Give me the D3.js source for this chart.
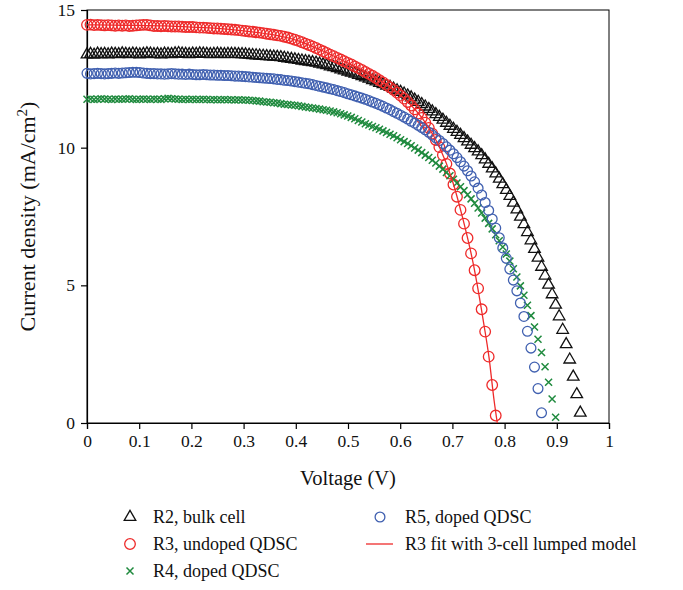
<!DOCTYPE html>
<html><head><meta charset="utf-8">
<script src="https://cdn.jsdelivr.net/npm/d3@7"></script>
<style>
html,body{margin:0;padding:0;background:#fff;}
text{font-family:"Liberation Serif","DejaVu Serif",serif;fill:#111;}
</style></head>
<body><svg id="chart" width="683" height="590"></svg>
<script>
// Voltage sampling step (V) shared by all measured series
const vStep = 0.00675;
// R2, bulk cell (mA/cm^2)
const r2 = [13.38,13.40,13.37,13.41,13.39,13.40,13.38,13.41,13.40,13.39,
 13.42,13.40,13.39,13.41,13.40,13.38,13.40,13.42,13.41,13.39,
 13.40,13.38,13.41,13.40,13.39,13.42,13.43,13.41,13.40,13.39,
 13.41,13.40,13.42,13.41,13.40,13.39,13.40,13.41,13.40,13.39,
 13.40,13.40,13.40,13.39,13.39,13.38,13.37,13.36,13.35,13.34,
 13.33,13.32,13.31,13.30,13.29,13.28,13.26,13.24,13.22,13.20,
 13.18,13.16,13.14,13.12,13.10,13.08,13.05,13.02,12.99,12.95,
 12.92,12.88,12.84,12.80,12.76,12.72,12.68,12.64,12.59,12.55,
 12.50,12.45,12.40,12.35,12.30,12.25,12.20,12.14,12.08,12.02,
 11.96,11.89,11.82,11.74,11.66,11.58,11.49,11.40,11.31,11.21,
 11.11,11.01,10.90,10.79,10.68,10.57,10.46,10.34,10.22,10.10,
 9.98,9.86,9.72,9.57,9.41,9.24,9.06,8.87,8.67,8.46,
 8.24,8.00,7.75,7.49,7.22,6.93,6.63,6.32,6.00,5.67,
 5.35,5.02,4.67,4.29,3.87,3.38,2.86,2.30,1.68,1.04,
 0.37];
// R3, undoped QDSC
const r3 = [14.46,14.47,14.45,14.46,14.45,14.44,14.45,14.44,14.43,14.44,
 14.43,14.44,14.42,14.43,14.44,14.45,14.46,14.46,14.44,14.42,
 14.42,14.41,14.42,14.41,14.40,14.40,14.40,14.39,14.38,14.38,
 14.38,14.37,14.36,14.36,14.35,14.34,14.33,14.33,14.32,14.31,
 14.30,14.29,14.28,14.27,14.25,14.24,14.22,14.21,14.19,14.18,
 14.16,14.14,14.12,14.10,14.08,14.06,14.03,14.00,13.96,13.92,
 13.88,13.83,13.78,13.73,13.68,13.62,13.56,13.50,13.44,13.38,
 13.32,13.26,13.20,13.14,13.08,13.02,12.95,12.89,12.82,12.75,
 12.68,12.61,12.53,12.45,12.37,12.28,12.19,12.10,12.00,11.89,
 11.78,11.66,11.53,11.39,11.24,11.08,10.91,10.72,10.51,10.28,
 10.02,9.73,9.41,9.06,8.66,8.22,7.74,7.24,6.72,6.16,
 5.55,4.89,4.13,3.32,2.41,1.38,0.27];
// R4, doped QDSC
const r4 = [11.76,11.77,11.75,11.76,11.78,11.77,11.76,11.75,11.77,11.76,
 11.76,11.77,11.78,11.76,11.75,11.76,11.77,11.76,11.75,11.77,
 11.76,11.75,11.78,11.79,11.78,11.77,11.76,11.75,11.76,11.75,
 11.76,11.75,11.75,11.76,11.75,11.74,11.75,11.74,11.74,11.75,
 11.74,11.74,11.73,11.74,11.73,11.73,11.72,11.71,11.70,11.69,
 11.67,11.66,11.65,11.63,11.62,11.60,11.58,11.57,11.55,11.54,
 11.52,11.50,11.48,11.46,11.44,11.42,11.40,11.38,11.36,11.33,
 11.30,11.27,11.23,11.19,11.15,11.10,11.05,10.99,10.93,10.87,
 10.82,10.77,10.72,10.67,10.61,10.55,10.49,10.43,10.36,10.29,
 10.22,10.15,10.07,9.99,9.91,9.82,9.73,9.64,9.54,9.44,
 9.33,9.22,9.10,8.98,8.85,8.72,8.58,8.44,8.29,8.14,
 7.98,7.81,7.63,7.44,7.25,7.05,6.84,6.62,6.39,6.14,
 5.88,5.60,5.30,4.98,4.64,4.28,3.90,3.49,3.04,2.56,
 2.04,1.48,0.87,0.21];
// R5, doped QDSC
const r5 = [12.70,12.68,12.69,12.70,12.69,12.68,12.69,12.70,12.71,12.70,
 12.71,12.72,12.73,12.74,12.74,12.73,12.71,12.70,12.69,12.69,
 12.68,12.68,12.67,12.68,12.69,12.68,12.67,12.67,12.66,12.67,
 12.66,12.65,12.65,12.66,12.65,12.64,12.64,12.63,12.63,12.62,
 12.62,12.61,12.60,12.60,12.59,12.58,12.57,12.56,12.55,12.54,
 12.53,12.52,12.51,12.50,12.48,12.47,12.45,12.44,12.42,12.40,
 12.38,12.36,12.34,12.32,12.29,12.26,12.23,12.20,12.17,12.14,
 12.11,12.07,12.04,12.00,11.96,11.92,11.88,11.84,11.80,11.76,
 11.71,11.66,11.61,11.56,11.50,11.44,11.38,11.31,11.25,11.18,
 11.11,11.04,10.96,10.89,10.81,10.73,10.65,10.56,10.46,10.36,
 10.26,10.15,10.03,9.91,9.78,9.64,9.49,9.33,9.16,8.97,
 8.76,8.53,8.28,8.01,7.72,7.41,7.08,6.73,6.36,5.98,
 5.59,5.19,4.80,4.36,3.87,3.33,2.72,2.03,1.25,0.37];
// R3 fit with 3-cell lumped model
const fitV = [0,0.05,0.10,0.15,0.20,0.25,0.30,0.35,0.40,0.45,0.50,0.55,0.60,0.65,0.675,0.70,0.72,0.74,0.76,0.77,0.78,0.786];
const fitI = [14.46,14.45,14.44,14.42,14.38,14.33,14.24,14.12,13.91,13.53,13.07,12.57,11.92,10.86,10.03,8.80,7.42,5.78,3.62,2.40,0.80,0.0];

const xTicks = [0,0.1,0.2,0.3,0.4,0.5,0.6,0.7,0.8,0.9,1];
const yTicks = [0,5,10,15];

const svg = d3.select("#chart");
const m = {l:87, r:609, t:10, b:423};
const x = d3.scaleLinear().domain([0,1]).range([m.l, m.r]);
const y = d3.scaleLinear().domain([0,15]).range([m.b, m.t]);

const toPts = arr => arr.map((v,i)=>({v:i*vStep, c:v}));

// frame
svg.append("rect").attr("x",m.l).attr("y",m.t).attr("width",m.r-m.l).attr("height",m.b-m.t)
  .attr("fill","none").attr("stroke","#000").attr("stroke-width",1);

const fs = "17.5px";
const xAxis = svg.append("g").attr("transform",`translate(0,${m.b})`)
  .call(d3.axisBottom(x).tickValues(xTicks).tickSize(6).tickPadding(6).tickFormat(d=>d3.format("")(+d.toFixed(1))));
const yAxis = svg.append("g").attr("transform",`translate(${m.l},0)`)
  .call(d3.axisLeft(y).tickValues(yTicks).tickSize(6).tickPadding(6));
[xAxis,yAxis].forEach(a=>{
  a.select(".domain").attr("stroke","#000").attr("stroke-width",1.2);
  a.selectAll(".tick line").attr("stroke","#000").attr("stroke-width",1.2);
  a.selectAll("text").attr("font-family","Liberation Serif, serif").attr("font-size",fs).attr("fill","#111");
});

const cBlack="#111", cRed="#ee2a2a", cGreen="#1f8a3e", cBlue="#4060b0";
const tri = d3.symbol().type(d3.symbolTriangle).size(58);

function drawTri(g, data){
  g.selectAll("path").data(data).join("path")
    .attr("d",tri).attr("transform",d=>`translate(${x(d.v)},${y(d.c)})`)
    .attr("fill","none").attr("stroke",cBlack).attr("stroke-width",1.3);
}
function drawCirc(g, data, col, r){
  g.selectAll("circle").data(data).join("circle")
    .attr("cx",d=>x(d.v)).attr("cy",d=>y(d.c)).attr("r",r)
    .attr("fill","none").attr("stroke",col).attr("stroke-width",1.3);
}
function drawX(g, data, col, s){
  g.selectAll("path").data(data).join("path")
    .attr("d",`M${-s},${-s}L${s},${s}M${-s},${s}L${s},${-s}`)
    .attr("transform",d=>`translate(${x(d.v)},${y(d.c)})`)
    .attr("fill","none").attr("stroke",col).attr("stroke-width",1.5);
}

drawTri(svg.append("g"), toPts(r2));
drawCirc(svg.append("g"), toPts(r3), cRed, 5.3);
drawX(svg.append("g"), toPts(r4), cGreen, 3.5);
drawCirc(svg.append("g"), toPts(r5), cBlue, 4.9);

const fitData = fitV.map((v,i)=>({v, c:fitI[i]}));
svg.append("path").datum(fitData)
  .attr("d", d3.line().x(d=>x(d.v)).y(d=>y(d.c)).curve(d3.curveMonotoneX))
  .attr("fill","none").attr("stroke",cRed).attr("stroke-width",1.3);

// axis titles
svg.append("text").attr("x",(m.l+m.r)/2).attr("y",485).attr("text-anchor","middle")
  .attr("font-size","20.5px").text("Voltage (V)");
const yt = svg.append("text").attr("transform",`translate(35,${(m.t+m.b)/2}) rotate(-90)`)
  .attr("text-anchor","middle").attr("font-size","22px");
yt.append("tspan").text("Current density (mA/cm");
yt.append("tspan").attr("dy",-8).attr("font-size","15px").text("2");
yt.append("tspan").attr("dy",8).text(")");

// legend
const ls = "18px";
const leg = svg.append("g");
const rows = [517,544,571];
leg.append("path").attr("d",tri).attr("transform",`translate(130,${rows[0]})`)
  .attr("fill","none").attr("stroke",cBlack).attr("stroke-width",1.3);
leg.append("circle").attr("cx",130).attr("cy",rows[1]).attr("r",5.3).attr("fill","none").attr("stroke",cRed).attr("stroke-width",1.3);
leg.append("path").attr("d","M-3.5,-3.5L3.5,3.5M-3.5,3.5L3.5,-3.5").attr("transform",`translate(130,${rows[2]})`)
  .attr("fill","none").attr("stroke",cGreen).attr("stroke-width",1.5);
leg.append("circle").attr("cx",380).attr("cy",rows[0]).attr("r",4.9).attr("fill","none").attr("stroke",cBlue).attr("stroke-width",1.3);
leg.append("line").attr("x1",366).attr("x2",393).attr("y1",rows[1]).attr("y2",rows[1]).attr("stroke",cRed).attr("stroke-width",1.3);
const labels = [["R2, bulk cell",153,rows[0]],["R3, undoped QDSC",153,rows[1]],["R4, doped QDSC",153,rows[2]],
  ["R5, doped QDSC",405,rows[0]],["R3 fit with 3-cell lumped model",405,rows[1]]];
labels.forEach(([t,lx,ly])=>leg.append("text").attr("x",lx).attr("y",ly+6).attr("font-size",ls).text(t));
</script></body></html>
